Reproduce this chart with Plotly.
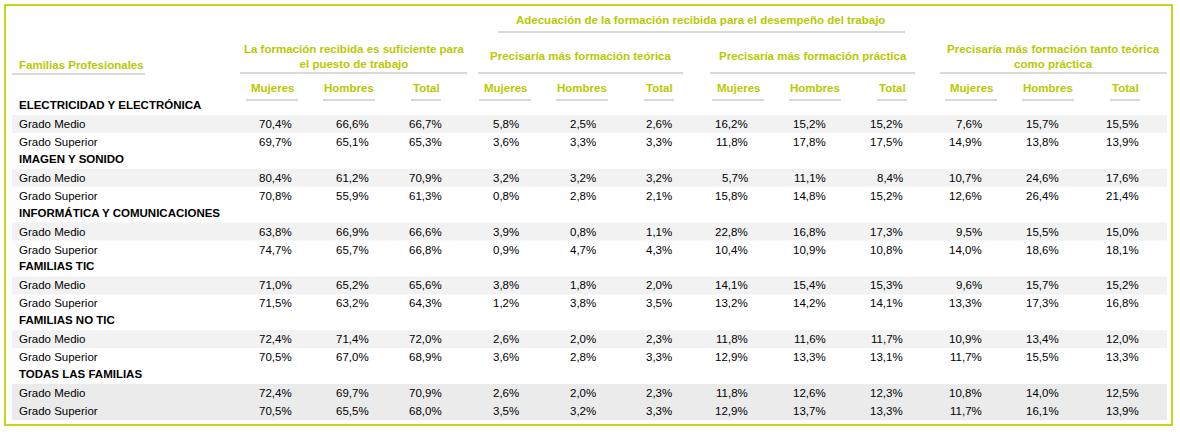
import plotly.graph_objects as go

# --- Datos ---
familias = ["ELECTRICIDAD Y ELECTRÓNICA", "IMAGEN Y SONIDO", "INFORMÁTICA Y COMUNICACIONES",
            "FAMILIAS TIC", "FAMILIAS NO TIC", "TODAS LAS FAMILIAS"]
grados = ["Grado Medio", "Grado Superior"]
grupos = ["La formación recibida es suficiente para<br>el puesto de trabajo",
          "Precisaría más formación teórica",
          "Precisaría más formación práctica",
          "Precisaría más formación tanto teórica<br>como práctica"]
sexos = ["Mujeres", "Hombres", "Total"]

valores = [
    ["70,4%", "66,6%", "66,7%", "5,8%", "2,5%", "2,6%", "16,2%", "15,2%", "15,2%", "7,6%", "15,7%", "15,5%"],
    ["69,7%", "65,1%", "65,3%", "3,6%", "3,3%", "3,3%", "11,8%", "17,8%", "17,5%", "14,9%", "13,8%", "13,9%"],
    ["80,4%", "61,2%", "70,9%", "3,2%", "3,2%", "3,2%", "5,7%", "11,1%", "8,4%", "10,7%", "24,6%", "17,6%"],
    ["70,8%", "55,9%", "61,3%", "0,8%", "2,8%", "2,1%", "15,8%", "14,8%", "15,2%", "12,6%", "26,4%", "21,4%"],
    ["63,8%", "66,9%", "66,6%", "3,9%", "0,8%", "1,1%", "22,8%", "16,8%", "17,3%", "9,5%", "15,5%", "15,0%"],
    ["74,7%", "65,7%", "66,8%", "0,9%", "4,7%", "4,3%", "10,4%", "10,9%", "10,8%", "14,0%", "18,6%", "18,1%"],
    ["71,0%", "65,2%", "65,6%", "3,8%", "1,8%", "2,0%", "14,1%", "15,4%", "15,3%", "9,6%", "15,7%", "15,2%"],
    ["71,5%", "63,2%", "64,3%", "1,2%", "3,8%", "3,5%", "13,2%", "14,2%", "14,1%", "13,3%", "17,3%", "16,8%"],
    ["72,4%", "71,4%", "72,0%", "2,6%", "2,0%", "2,3%", "11,8%", "11,6%", "11,7%", "10,9%", "13,4%", "12,0%"],
    ["70,5%", "67,0%", "68,9%", "3,6%", "2,8%", "3,3%", "12,9%", "13,3%", "13,1%", "11,7%", "15,5%", "13,3%"],
    ["72,4%", "69,7%", "70,9%", "2,6%", "2,0%", "2,3%", "11,8%", "12,6%", "12,3%", "10,8%", "14,0%", "12,5%"],
    ["70,5%", "65,5%", "68,0%", "3,5%", "3,2%", "3,3%", "12,9%", "13,7%", "13,3%", "11,7%", "16,1%", "13,9%"],
]

VERDE = "#b8c900"
BORDE = "#c8d41a"
GRIS = "#d9d9d9"
FONT = "Liberation Sans Narrow, Liberation Sans, sans-serif"

col_centro = [272, 349, 426, 505, 582, 659, 738, 815, 892, 971, 1048, 1125]
col_der = [294, 371, 444, 521, 598, 674, 750, 828, 905, 984, 1061, 1141]
grupo_x = [(240, 467), (478, 683), (710, 915), (940, 1167)]

fig = go.Figure()
ann = []
shapes = []

def texto(x, y, t, color="black", size=12, bold=False, anchor="center"):
    ann.append(dict(x=x, y=y, xref="x", yref="y", text=f"<b>{t}</b>" if bold else t,
                    showarrow=False, xanchor=anchor, yanchor="middle",
                    font=dict(family=FONT, size=size, color=color)))

def linea(x0, x1, y, color=GRIS, w=2):
    shapes.append(dict(type="line", x0=x0, x1=x1, y0=y, y1=y, xref="x", yref="y",
                       line=dict(color=color, width=w)))

# borde exterior
shapes.append(dict(type="rect", x0=5, x1=1172, y0=5, y1=425, xref="x", yref="y",
                   line=dict(color=BORDE, width=2)))

# cabeceras
texto(700, 20, "Adecuación de la formación recibida para el desempeño del trabajo", VERDE, 11.5, True)
linea(498, 905, 32)
texto(17, 65, "Familias Profesionales", VERDE, 11.5, True, "left")
linea(12, 145, 74)
for (x0, x1), g in zip(grupo_x, grupos):
    texto((x0 + x1) / 2, 56, g, VERDE, 11.5, True)
    linea(x0, x1, 73)
for i, c in enumerate(col_centro):
    s = sexos[i % 3]
    texto(c, 88, s, VERDE, 11.5, True)
    w = 52 if s != "Total" else 30
    linea(c - w / 2, c + w / 2, 100)

# filas
for k, fam in enumerate(familias):
    yg = 105 + k * 53.8
    texto(17, yg, fam, "black", 11.5, True, "left")
    for j, gr in enumerate(grados):
        y = yg + 19 + j * 18
        if j == 0 or k == len(familias) - 1:
            shapes.append(dict(type="rect", x0=12, x1=1167, y0=y - 9, y1=y + 9, xref="x", yref="y",
                               fillcolor="#ebebeb" if k == len(familias) - 1 else "#f2f2f2",
                               line=dict(width=0), layer="below"))
        texto(17, y, gr, "black", 11.5, False, "left")
        for i, v in enumerate(valores[k * 2 + j]):
            texto(col_der[i], y, v, "black", 11.5, False, "right")

fig.update_layout(
    width=1180, height=432, margin=dict(l=0, r=0, t=0, b=0),
    plot_bgcolor="white", paper_bgcolor="white",
    xaxis=dict(range=[0, 1180], visible=False, fixedrange=True),
    yaxis=dict(range=[432, 0], visible=False, fixedrange=True),
    annotations=ann, shapes=shapes, showlegend=False,
)
fig.write_html("out.html", config={"displayModeBar": False},
               post_script="document.body.style.margin='0';document.body.style.overflow='hidden';")
